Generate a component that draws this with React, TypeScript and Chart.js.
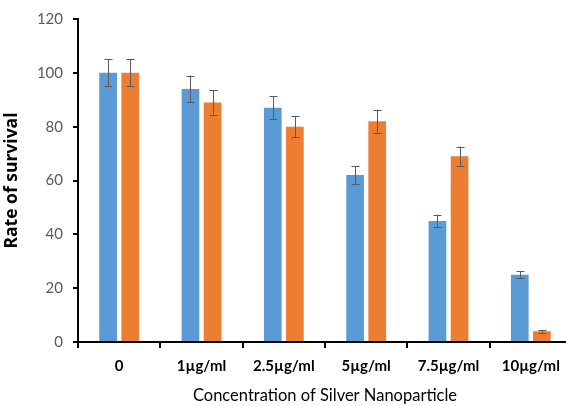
import React, { useEffect, useRef } from "react";
import { Chart, registerables } from "chart.js";

Chart.register(...registerables);

const categories = ["0", "1µg/ml", "2.5µg/ml", "5µg/ml", "7.5µg/ml", "10µg/ml"];
const seriesA = [100, 94, 87, 62, 45, 25];
const seriesB = [100, 89, 80, 82, 69, 4];
const errorsA = [5, 5, 4.3, 3.3, 2.3, 1.2];
const errorsB = [5, 4.5, 4, 4.3, 3.6, 0.5];
const yTicks = [0, 20, 40, 60, 80, 100, 120];

const errorBarPlugin = {
  id: "errorBars",
  afterDatasetsDraw(chart: any) {
    const ctx = chart.ctx;
    const yScale = chart.scales.y;
    const errs = [errorsA, errorsB];
    ctx.save();
    ctx.strokeStyle = "#5a5a5a";
    ctx.lineWidth = 1;
    chart.data.datasets.forEach((ds: any, di: number) => {
      const meta = chart.getDatasetMeta(di);
      meta.data.forEach((el: any, i: number) => {
        const v = ds.data[i];
        const e = errs[di][i];
        const x = Math.round(el.x) + 0.5;
        const yTop = yScale.getPixelForValue(v + e);
        const yBot = yScale.getPixelForValue(v - e);
        ctx.beginPath();
        ctx.moveTo(x, yTop);
        ctx.lineTo(x, yBot);
        ctx.moveTo(x - 4, Math.round(yTop) + 0.5);
        ctx.lineTo(x + 4, Math.round(yTop) + 0.5);
        ctx.moveTo(x - 4, Math.round(yBot) + 0.5);
        ctx.lineTo(x + 4, Math.round(yBot) + 0.5);
        ctx.stroke();
      });
    });
    ctx.restore();
  },
};

export default function App() {
  const ref = useRef<HTMLCanvasElement>(null);
  useEffect(() => {
    if (!ref.current) return;
    const chart = new Chart(ref.current, {
      type: "bar",
      data: {
        labels: categories,
        datasets: [
          { data: seriesA, backgroundColor: "#5B9BD5", categoryPercentage: 0.537, barPercentage: 0.8 },
          { data: seriesB, backgroundColor: "#ED7D31", categoryPercentage: 0.537, barPercentage: 0.8 },
        ],
      },
      options: {
        animation: false,
        responsive: false,
        maintainAspectRatio: false,
        layout: { padding: { top: 10, left: 0, right: 0, bottom: 0 } },
        plugins: { legend: { display: false }, tooltip: { enabled: false } },
        scales: {
          x: {
            border: { color: "#000", width: 2 },
            grid: { display: true, drawOnChartArea: false, drawTicks: true, tickLength: 6, color: "#000", lineWidth: 2 },
            ticks: { color: "#000", font: { family: "Lato", size: 15, weight: "bold" }, padding: 9, maxRotation: 0 },
            title: {
              display: true,
              text: "Concentration of Silver Nanoparticle",
              color: "#000",
              font: { family: "Lato", size: 16.5 },
              padding: { top: 0, bottom: 0 },
            },
            afterFit(scale: any) {
              scale.height = 64;
            },
          },
          y: {
            min: 0,
            max: 120,
            afterBuildTicks(scale: any) {
              scale.ticks = yTicks.map((v) => ({ value: v }));
            },
            border: { color: "#000", width: 2 },
            grid: { display: true, drawOnChartArea: false, drawTicks: true, tickLength: 5, color: "#000", lineWidth: 2 },
            ticks: { color: "#595959", font: { family: "Lato", size: 15 }, padding: 10 },
            title: {
              display: true,
              text: "Rate of survival",
              color: "#000",
              font: { family: "Open Sans", size: 17.5, weight: "bold" },
              padding: { top: 2, bottom: 0 },
            },
            afterFit(scale: any) {
              scale.width = 78;
            },
          },
        },
      },
      plugins: [errorBarPlugin],
    });
    return () => chart.destroy();
  }, []);
  return (
    <div style={{ position: "fixed", left: 0, top: 0, width: 566, height: 406, overflow: "hidden", background: "#fff" }}>
      <canvas ref={ref} width={572} height={406} style={{ display: "block" }} />
    </div>
  );
}
